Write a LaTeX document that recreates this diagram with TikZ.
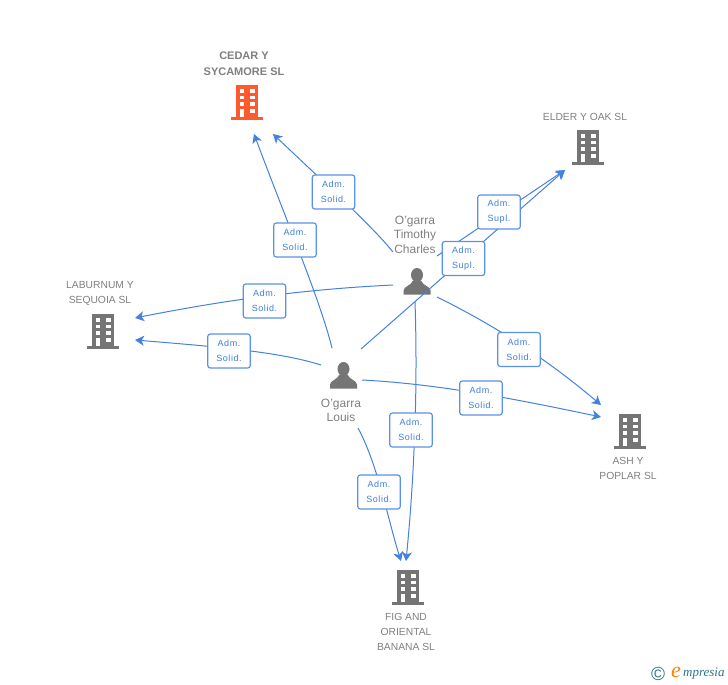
\documentclass[tikz,border=0pt]{standalone}
\usepackage{fontspec}
\setmainfont{Liberation Sans}
\newfontfamily\logofont{Liberation Serif}
\newfontfamily\rolefont[LetterSpace=6]{Liberation Sans}
\usetikzlibrary{arrows.meta}
\definecolor{linkblue}{HTML}{4482E0}
\definecolor{boxblue}{HTML}{5A93E6}
\definecolor{roletext}{HTML}{3F7FDC}
\definecolor{txtgray}{HTML}{808080}
\definecolor{icongray}{HTML}{757575}
\definecolor{iconred}{HTML}{FF5A2D}
\definecolor{logoteal}{HTML}{2F7488}
\tikzset{
  x=1pt,y=-1pt,
  conn/.style={draw=linkblue,line width=1pt,-{Stealth[length=9pt,width=10pt,inset=2.5pt]}},
  role/.style={draw=boxblue,line width=1.2pt,fill=white,rounded corners=2.5pt,minimum width=42.5pt,minimum height=34pt,inner sep=0pt,align=center,text=roletext,font=\rolefont\fontsize{9}{15}\selectfont,execute at begin node={\rule{0pt}{8.5pt}}},
  lab/.style={align=center,text=txtgray,inner sep=0pt,font=\fontsize{10.3}{15}\selectfont},
  perlab/.style={align=center,text=txtgray,inner sep=0pt,font=\fontsize{12}{14.5}\selectfont},
  pics/bldg/.style={code={
    \fill[#1] (-11,-17) rectangle (11,15);
    \fill[#1] (-16,15) rectangle (16,17.5);
    \foreach \yy in {-13,-6.5,0} \foreach \xx in {-7.5,3}
      \fill[white] (\xx,\yy) rectangle ++(4.5,3.8);
    \fill[white] (-7.5,7) rectangle (-3,15);
    \fill[white] (3,7) rectangle (7.5,10.8);
  }},
  pics/person/.style={code={
    \fill[icongray] (0,-6.5) ellipse (6 and 7);
    \fill[icongray] (-13.5,13) -- (-13.5,9) .. controls (-13,4.5) and (-6,4.5) .. (-4,-1) -- (4,-1) .. controls (6,4.5) and (13,4.5) .. (13.5,9) -- (13.5,13) -- cycle;
  }}
}
\begin{document}
\begin{tikzpicture}
\useasboundingbox (0,0) rectangle (728,685);
\fill[white] (0,0) rectangle (728,685);
% icons
\pic at (247,102) {bldg=iconred};
\pic at (588,147) {bldg=icongray};
\pic at (103,331) {bldg=icongray};
\pic at (630,431) {bldg=icongray};
\pic at (408,587) {bldg=icongray};
\pic at (417,281.5) {person};
\pic at (343.5,375.5) {person};
% text labels
\node[lab,font=\fontsize{11}{16}\selectfont\bfseries] (cedar) at (244,63.5) {CEDAR Y\\SYCAMORE SL};
\node[lab] (elder) at (585,116.5) {ELDER Y OAK SL};
\node[lab] (laburnum) at (100,293.5) {LABURNUM Y\\SEQUOIA SL};
\node[lab] (ash) at (628,468) {ASH Y\\POPLAR SL};
\node[lab] (fig) at (406,631.5) {FIG AND\\ORIENTAL\\BANANA SL};
\node[perlab] (timothy) at (415,234.5) {O'garra\\Timothy\\Charles};
\node[perlab] (louis) at (341,410.5) {O'garra\\Louis};
% free ends
\coordinate (tA) at (393,252);
\coordinate (tB) at (437,256);
\coordinate (tC) at (393,285);
\coordinate (tD) at (437,297);
\coordinate (tE) at (415,302);
\coordinate (lA) at (332,348);
\coordinate (lB) at (361,349);
\coordinate (lC) at (321,365);
\coordinate (lD) at (362,380);
\coordinate (lE) at (358,428);
\coordinate (toCedar1) at (273,134);
\coordinate (toCedar2) at (254,134);
\coordinate (toElder) at (565,170);
\coordinate (toLab1) at (135,318);
\coordinate (toLab2) at (135,340);
\coordinate (toAsh1) at (601,405);
\coordinate (toAsh2) at (601,417);
\coordinate (toFig1) at (406,561);
\coordinate (toFig2) at (401,561);
% connectors
\draw[conn] (tA) .. controls (372,226) and (330,188) .. (toCedar1);
\draw[conn] (lA) .. controls (320,300) and (290,230) .. (toCedar2);
\draw[conn] (tB) -- (toElder);
\draw[conn] (lB) -- (toElder);
\draw[conn] (tC) .. controls (310,289) and (230,299) .. (toLab1);
\draw[conn] (lC) .. controls (280,352) and (220,347) .. (toLab2);
\draw[conn] (tD) .. controls (500,328) and (550,362) .. (toAsh1);
\draw[conn] (lD) .. controls (440,384) and (520,400) .. (toAsh2);
\draw[conn] (tE) .. controls (418,390) and (414,480) .. (toFig1);
\draw[conn] (lE) .. controls (378,465) and (388,520) .. (toFig2);
% role boxes
\node[role] (b1) at (333.5,192) {Adm.\\Solid.};
\node[role] (b2) at (295,240) {Adm.\\Solid.};
\node[role] (b3) at (499,212) {Adm.\\Supl.};
\node[role] (b4) at (463.5,258.5) {Adm.\\Supl.};
\node[role] (b5) at (264.5,301) {Adm.\\Solid.};
\node[role] (b6) at (229,351) {Adm.\\Solid.};
\node[role] (b7) at (519,349.5) {Adm.\\Solid.};
\node[role] (b8) at (481,398) {Adm.\\Solid.};
\node[role] (b9) at (411,430) {Adm.\\Solid.};
\node[role] (b10) at (379,492) {Adm.\\Solid.};
% logo
\node[inner sep=0pt,text=logoteal,font=\fontsize{19}{19}\selectfont] (copy) at (658,674) {©};
\node[inner sep=0pt,anchor=west,text=orange,font=\logofont\itshape\fontsize{22}{22}\selectfont] (logoe) at (671,672.5) {e};
\node[inner sep=0pt,anchor=west,text=logoteal,font=\logofont\itshape\fontsize{13}{14}\selectfont] (logot) at (683,674) {mpresia};
\end{tikzpicture}
\end{document}
